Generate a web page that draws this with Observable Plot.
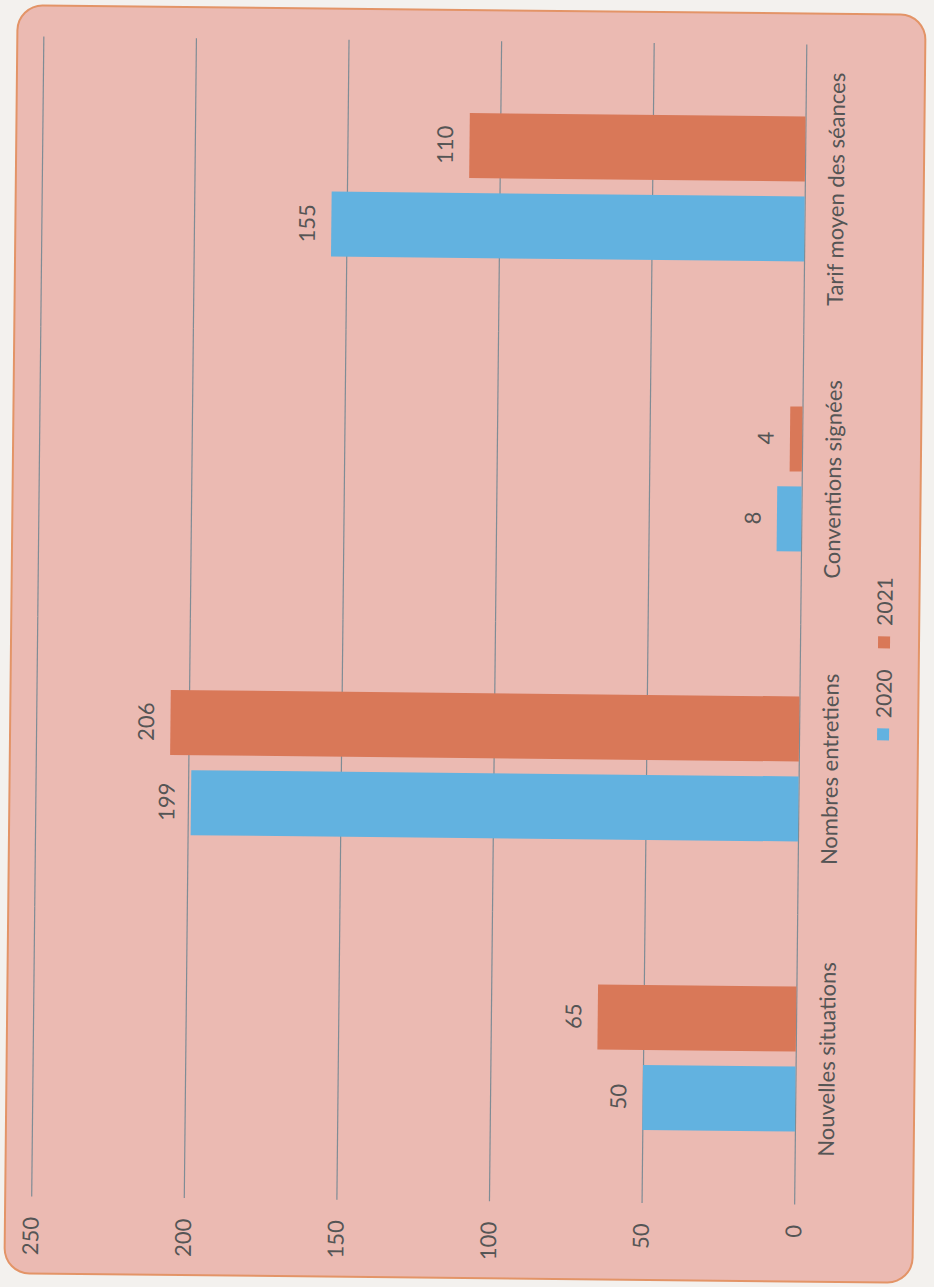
<!DOCTYPE html>
<html><head><meta charset="utf-8">
<script src="https://cdn.jsdelivr.net/npm/d3@7"></script>
<script src="https://cdn.jsdelivr.net/npm/@observablehq/plot@0.6"></script>
<style>
html,body{margin:0;padding:0;width:934px;height:1287px;overflow:hidden;background:#f3f1ee;}
#card{position:absolute;left:-168px;top:191px;width:1266px;height:906px;background:#ebbab2;box-shadow:0 0 0 2px #e39467;border-radius:24px;transform:rotate(-89.4deg);transform-origin:50% 50%;font-family:Lato,sans-serif;color:#555;}
#card svg{display:block;overflow:visible;}
#legend{display:flex;justify-content:center;margin-top:12px;}
</style></head><body>
<div id="card"><div id="chart"></div><div id="legend"></div></div>
<script>
const categories = ["Nouvelles situations", "Nombres entretiens", "Conventions signées", "Tarif moyen des séances"];
const years = ["2020", "2021"];
const values2020 = [50, 199, 8, 155];
const values2021 = [65, 206, 4, 110];
const yTicks = [0, 50, 100, 150, 200, 250];
const colors = ["#62b2e0", "#d97858"];

const data = categories.flatMap((c, i) => [
  {category: c, year: years[0], value: values2020[i]},
  {category: c, year: years[1], value: values2021[i]}
]);

const chart = Plot.plot({
  width: 1266, height: 843,
  marginLeft: 76, marginRight: 30, marginTop: 25, marginBottom: 55,
  style: {background: "transparent", fontFamily: "Lato, sans-serif", fontSize: "22px", color: "#555", overflow: "visible"},
  fx: {domain: categories, padding: 0, axis: "bottom", label: null, tickSize: 0, tickPadding: 23},
  x: {domain: years, axis: null, paddingInner: 0.1875, paddingOuter: 0.906},
  y: {domain: [0, 250], ticks: yTicks, label: null, tickSize: 0, tickPadding: 21},
  color: {domain: years, range: colors},
  marks: [
    Plot.ruleY(yTicks, {stroke: "#7f8c95", strokeWidth: 1.2}),
    Plot.barY(data, {fx: "category", x: "year", y: "value", fill: "year"}),
    Plot.text(data, {fx: "category", x: "year", y: "value", text: d => String(d.value), dy: -24, fill: "#555", fontSize: 22})
  ]
});
document.getElementById("chart").appendChild(chart);

const legend = Plot.legend({
  color: {domain: years, range: colors},
  swatchSize: 12,
  style: {fontFamily: "Lato, sans-serif", fontSize: "21px", color: "#555", background: "transparent"}
});
document.getElementById("legend").appendChild(legend);
</script>
</body></html>
